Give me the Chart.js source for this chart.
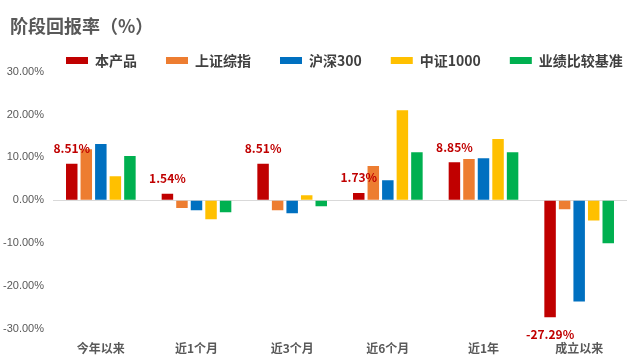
<!DOCTYPE html>
<html lang="zh-CN">
<head>
    <meta charset="UTF-8">
    <title>阶段回报率</title>
    <script src="https://cdn.jsdelivr.net/npm/chart.js"></script>
    <style>
        body {
            margin: 0;
            padding: 0;
            background-color: #fff;
            overflow: hidden;
        }

        canvas {
            display: block;
        }
    </style>
</head>
<body>
    <canvas id="returnChart" width="641" height="361"></canvas>
    <script>
        // Dados
        const periods = ['今年以来', '近1个月', '近3个月', '近6个月', '近1年', '成立以来'];
        const product = [8.51, 1.54, 8.51, 1.73, 8.85, -27.29];
        const shComposite = [11.9, -1.8, -2.3, 8.0, 9.6, -2.1];
        const csi300 = [13.1, -2.3, -3.0, 4.7, 9.8, -23.6];
        const csi1000 = [5.6, -4.4, 1.2, 21.0, 14.3, -4.7];
        const benchmark = [10.3, -2.8, -1.4, 11.2, 11.2, -10.0];
        const yTicks = [-30, -20, -10, 0, 10, 20, 30];

        const cjk = "'Microsoft YaHei', 'Noto Sans CJK SC', sans-serif";

        // rótulos do primeiro dataset (本产品)
        const valueLabels = {
            id: 'valueLabels',
            afterDatasetsDraw(chart) {
                const ctx = chart.ctx;
                const meta = chart.getDatasetMeta(0);
                const values = chart.data.datasets[0].data;
                ctx.save();
                ctx.font = 'bold 12px ' + cjk;
                ctx.fillStyle = '#C00000';
                ctx.textAlign = 'center';
                ctx.textBaseline = 'middle';
                meta.data.forEach((bar, i) => {
                    const v = values[i];
                    const y = v >= 0 ? bar.y - 15 : bar.y + 17;
                    ctx.fillText(v.toFixed(2) + '%', bar.x, y);
                });
                ctx.restore();
            }
        };

        // ajusta posição do título e da legenda
        const shiftBoxes = {
            id: 'shiftBoxes',
            afterLayout(chart) {
                if (chart.titleBlock) {
                    chart.titleBlock.left += 10;
                    chart.titleBlock.right += 10;
                }
                if (chart.legend) {
                    chart.legend.left += 37;
                    chart.legend.right = chart.width + 100;
                }
            }
        };

        new Chart(document.getElementById('returnChart'), {
            type: 'bar',
            data: {
                labels: periods,
                datasets: [
                    { label: '本产品', data: product, backgroundColor: '#C00000' },
                    { label: '上证综指', data: shComposite, backgroundColor: '#ED7D31' },
                    { label: '沪深300', data: csi300, backgroundColor: '#0070C0' },
                    { label: '中证1000', data: csi1000, backgroundColor: '#FFC000' },
                    { label: '业绩比较基准', data: benchmark, backgroundColor: '#00B050' }
                ]
            },
            options: {
                responsive: false,
                animation: false,
                devicePixelRatio: 1,
                datasets: {
                    bar: {
                        categoryPercentage: 0.76,
                        barPercentage: 0.79
                    }
                },
                layout: {
                    padding: { left: 0, right: 14, top: 0, bottom: 6 }
                },
                plugins: {
                    title: {
                        display: true,
                        text: '阶段回报率（%）',
                        align: 'start',
                        color: '#595959',
                        font: { family: cjk, size: 18, weight: 'bold' },
                        padding: { top: 15, bottom: -12 }
                    },
                    legend: {
                        display: true,
                        position: 'top',
                        align: 'start',
                        maxHeight: 47,
                        labels: {
                            boxWidth: 22,
                            boxHeight: 7,
                            padding: 29,
                            color: '#404040',
                            font: { family: cjk, size: 14, weight: 'bold' }
                        }
                    },
                    tooltip: { enabled: false }
                },
                scales: {
                    x: {
                        afterFit(scale) { scale.height = 26; },
                        grid: { display: false, drawTicks: false },
                        border: { display: false },
                        ticks: {
                            padding: 12,
                            maxRotation: 0,
                            color: '#595959',
                            font: { family: cjk, size: 12, weight: 'bold' }
                        }
                    },
                    y: {
                        min: yTicks[0],
                        max: yTicks[yTicks.length - 1],
                        afterFit(scale) { scale.width = 53; },
                        afterBuildTicks(scale) {
                            scale.ticks = yTicks.map(v => ({ value: v }));
                        },
                        grid: {
                            drawTicks: false,
                            color: c => c.tick && c.tick.value === 0 ? '#D9D9D9' : 'rgba(0,0,0,0)',
                            lineWidth: 1
                        },
                        border: { display: false },
                        ticks: {
                            padding: 9,
                            color: '#595959',
                            font: { family: "'Liberation Sans', sans-serif", size: 11 },
                            callback: v => v.toFixed(2) + '%'
                        }
                    }
                }
            },
            plugins: [valueLabels, shiftBoxes]
        });
    </script>
</body>
</html>
